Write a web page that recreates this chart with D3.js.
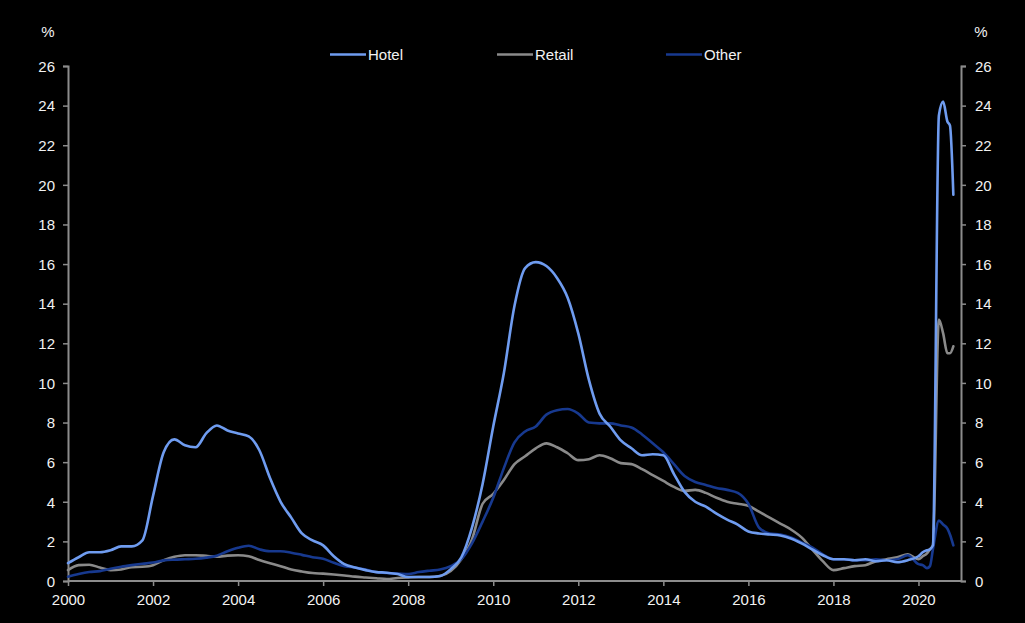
<!DOCTYPE html>
<html><head><meta charset="utf-8">
<script src="https://cdn.jsdelivr.net/npm/d3@7/dist/d3.min.js"></script>
<style>
html,body{margin:0;padding:0;background:#000;}
svg{display:block;}
text{font-family:"Liberation Sans",Arial,sans-serif;fill:#f2f2f2;}
</style></head>
<body>
<svg id="c" width="1025" height="623"></svg>
<script>
// Time points (decimal years): quarterly 2000-2019, then 2020 points
const dates = [
2000.00,2000.25,2000.50,2000.75,2001.00,2001.25,2001.50,2001.75,
2002.00,2002.25,2002.50,2002.75,2003.00,2003.25,2003.50,2003.75,
2004.00,2004.25,2004.50,2004.75,2005.00,2005.25,2005.50,2005.75,
2006.00,2006.25,2006.50,2006.75,2007.00,2007.25,2007.50,2007.75,
2008.00,2008.25,2008.50,2008.75,2009.00,2009.25,2009.50,2009.75,
2010.00,2010.25,2010.50,2010.75,2011.00,2011.25,2011.50,2011.75,
2012.00,2012.25,2012.50,2012.75,2013.00,2013.25,2013.50,2013.75,
2014.00,2014.25,2014.50,2014.75,2015.00,2015.25,2015.50,2015.75,
2016.00,2016.25,2016.50,2016.75,2017.00,2017.25,2017.50,2017.75,
2018.00,2018.25,2018.50,2018.75,2019.00,2019.25,2019.50,2019.75,
2020.00,2020.10,2020.20,2020.27,2020.34,2020.48,2020.58,2020.68,2020.74,2020.82
];
const hotel = [
0.9,1.2,1.45,1.45,1.55,1.75,1.75,2.05,
4.3,6.5,7.15,6.85,6.75,7.45,7.85,7.6,
7.45,7.3,6.6,5.2,4.0,3.2,2.4,2.05,
1.8,1.25,0.85,0.68,0.55,0.45,0.42,0.35,
0.2,0.2,0.2,0.25,0.6,1.2,2.7,4.9,
7.8,10.5,13.9,15.8,16.1,15.9,15.3,14.3,
12.5,10.15,8.45,7.8,7.1,6.7,6.35,6.4,
6.35,5.4,4.5,4.0,3.75,3.4,3.1,2.85,
2.5,2.4,2.35,2.3,2.15,1.9,1.6,1.3,
1.1,1.1,1.05,1.1,1.0,1.05,0.95,1.05,
1.25,1.45,1.55,1.6,1.8,23.5,24.2,23.2,23.0,19.5
];
const retail = [
0.55,0.8,0.82,0.68,0.55,0.58,0.7,0.72,
0.8,1.05,1.22,1.3,1.3,1.27,1.23,1.28,
1.3,1.25,1.06,0.9,0.75,0.58,0.48,0.4,
0.37,0.33,0.28,0.22,0.18,0.14,0.1,0.15,
0.18,0.2,0.2,0.25,0.5,1.1,2.1,3.9,
4.4,5.1,5.9,6.3,6.7,6.95,6.75,6.45,
6.1,6.15,6.35,6.2,5.95,5.9,5.65,5.35,
5.05,4.75,4.55,4.6,4.45,4.2,4.0,3.9,
3.8,3.5,3.2,2.9,2.6,2.2,1.6,1.0,
0.55,0.65,0.75,0.8,1.0,1.1,1.2,1.35,
1.1,1.25,1.4,1.6,1.8,13.2,12.5,11.5,11.5,11.85
];
const other = [
0.22,0.35,0.45,0.5,0.62,0.72,0.8,0.87,
0.93,1.04,1.08,1.1,1.12,1.18,1.28,1.5,
1.68,1.78,1.6,1.5,1.5,1.43,1.32,1.2,
1.12,0.92,0.75,0.68,0.58,0.45,0.4,0.38,
0.35,0.45,0.52,0.58,0.75,1.1,1.9,3.0,
4.2,5.7,7.0,7.55,7.8,8.4,8.62,8.68,
8.45,8.0,7.96,7.96,7.85,7.75,7.4,6.95,
6.5,5.9,5.3,5.0,4.85,4.7,4.6,4.45,
3.9,2.7,2.4,2.35,2.2,1.95,1.7,1.35,
1.1,1.1,1.05,1.05,1.1,1.05,1.1,1.3,
0.85,0.8,0.65,0.75,1.6,3.05,2.85,2.65,2.35,1.8
];
const seriesNames = ["Hotel","Retail","Other"];
const seriesColors = ["#6f9cf0","#8a8a8a","#17398f"];
const yTicks = [0,2,4,6,8,10,12,14,16,18,20,22,24,26];
const xTicks = [2000,2002,2004,2006,2008,2010,2012,2014,2016,2018,2020];

const svg = d3.select("#c");
svg.append("rect").attr("width",1025).attr("height",623).attr("fill","#000");
const L=68, R=961, T=66, B=581;
const x = d3.scaleLinear().domain([2000,2021]).range([L,R]);
const y = d3.scaleLinear().domain([0,26]).range([B,T]);
const axisColor = "#8c8c8c";
const FS = 15;

function styleAxis(g){
  g.selectAll("path").attr("stroke",axisColor).attr("stroke-width",2);
  g.selectAll("line").attr("stroke",axisColor).attr("stroke-width",1.5);
  g.selectAll("text").attr("font-size",FS).attr("fill","#f2f2f2")
    .attr("font-family","'Liberation Sans',Arial,sans-serif");
}
const yl = svg.append("g").attr("transform",`translate(${L},0)`)
  .call(d3.axisLeft(y).tickValues(yTicks).tickSize(5).tickPadding(8).tickSizeOuter(5));
styleAxis(yl);
const yr = svg.append("g").attr("transform",`translate(${R},0)`)
  .call(d3.axisRight(y).tickValues(yTicks).tickSize(5).tickPadding(9).tickSizeOuter(5));
styleAxis(yr);
const xa = svg.append("g").attr("transform",`translate(0,${B})`)
  .call(d3.axisBottom(x).tickValues(xTicks).tickFormat(d3.format("d")).tickSize(5).tickPadding(8).tickSizeOuter(0));
styleAxis(xa);
xa.select("path.domain").attr("d",`M${L},0H${R}`);
yl.selectAll("text").attr("dy","0.35em");
yr.selectAll("text").attr("dy","0.35em");

svg.append("text").attr("x",48).attr("y",37).attr("text-anchor","middle").attr("font-size",FS).text("%");
svg.append("text").attr("x",981).attr("y",37).attr("text-anchor","middle").attr("font-size",FS).text("%");

const data = [hotel, retail, other];
const line = d3.line().x((d,i)=>x(dates[i])).y(d=>y(d)).curve(d3.curveMonotoneX);
const order = [1,2,0];
order.forEach(k=>{
  svg.append("path").datum(data[k]).attr("d",line)
    .attr("fill","none").attr("stroke",seriesColors[k]).attr("stroke-width",2.6)
    .attr("stroke-linejoin","round").attr("stroke-linecap","round");
});

// legend
const legX = [330,497,666];
seriesNames.forEach((n,i)=>{
  svg.append("line").attr("x1",legX[i]).attr("x2",legX[i]+36).attr("y1",54.5).attr("y2",54.5)
    .attr("stroke",seriesColors[i]).attr("stroke-width",2.6);
  svg.append("text").attr("x",legX[i]+38).attr("y",60).attr("font-size",FS).text(n);
});
</script>
</body></html>
